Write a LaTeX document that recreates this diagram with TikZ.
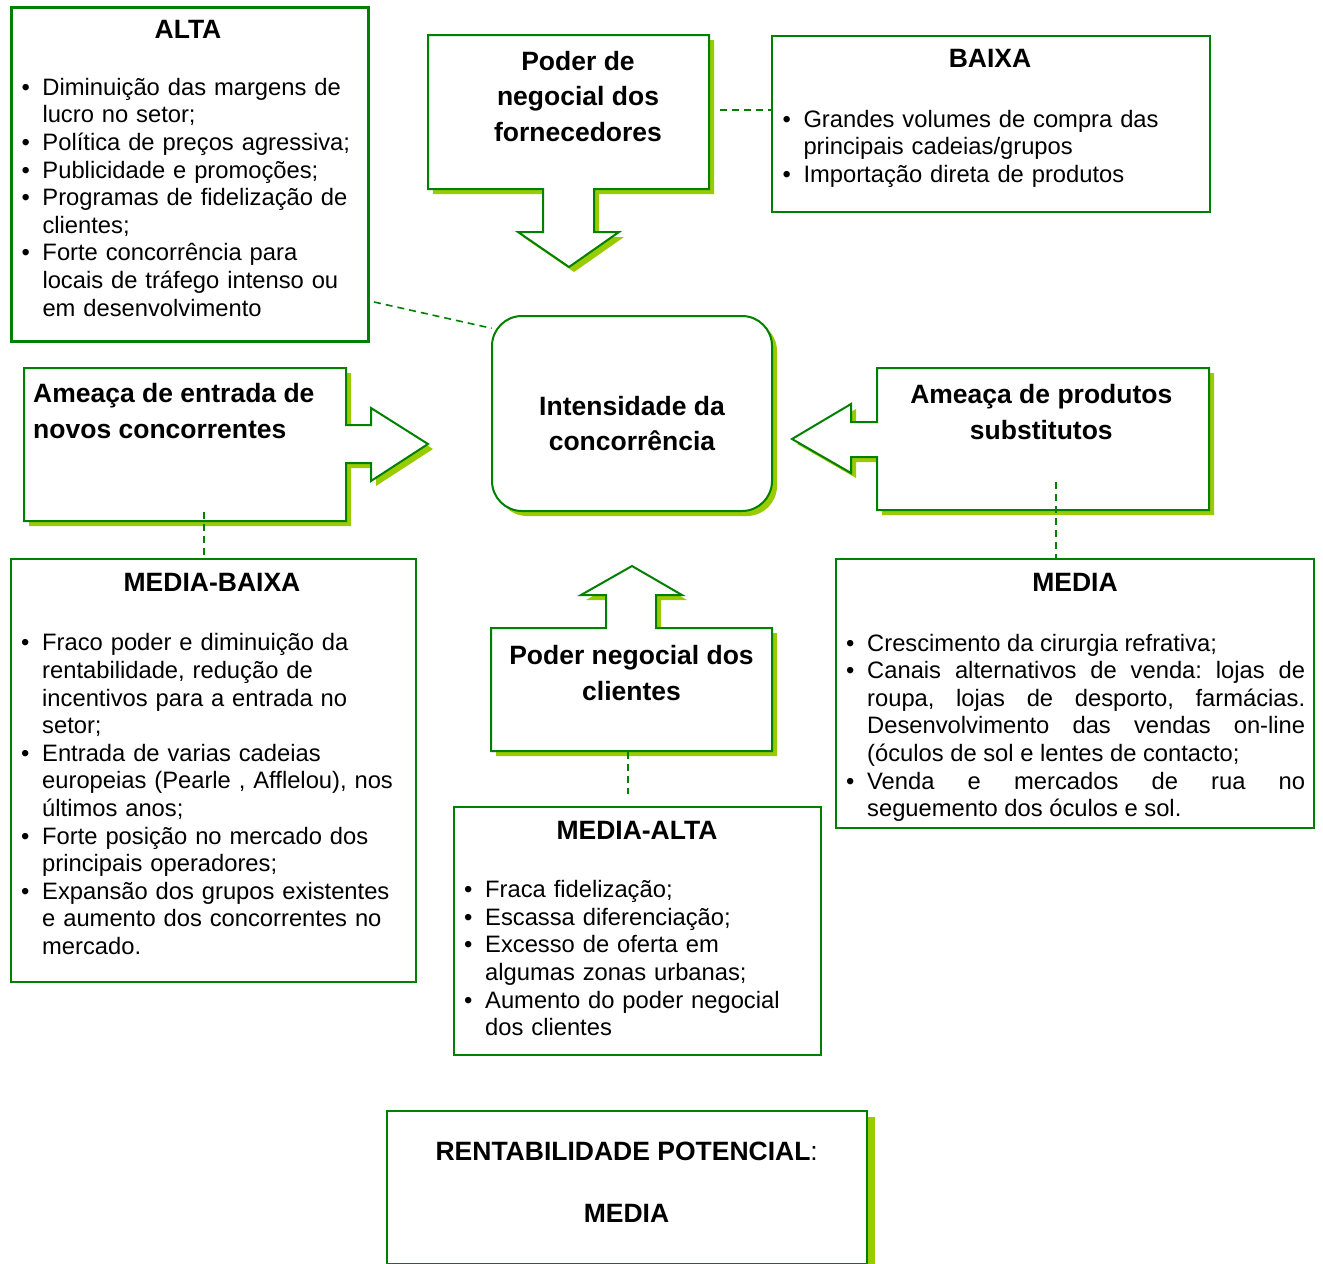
\documentclass[tikz,border=0pt]{standalone}
\usepackage{fontspec}
\setmainfont{Liberation Sans}
\definecolor{dg}{RGB}{0,128,0}
\definecolor{lg}{RGB}{153,204,0}
\newcommand{\bitem}[1]{\par\hangindent=21pt\hangafter=1\noindent\rule{0pt}{20pt}\makebox[21pt][l]{\textbullet}#1}
\newcommand{\fornshape}[1]{\path[#1] (428,35) -- (709,35) -- (709,189) -- (594,189) -- (594,232) -- (619,232) -- (569,267) -- (518,232) -- (543,232) -- (543,189) -- (428,189) -- cycle;}
\newcommand{\entrshape}[1]{\path[#1] (24,368) -- (346,368) -- (346,425) -- (371,425) -- (371,408) -- (428,444) -- (371,481) -- (371,463) -- (346,463) -- (346,521) -- (24,521) -- cycle;}
\newcommand{\prodshape}[1]{\path[#1] (877,368) -- (1209,368) -- (1209,510) -- (877,510) -- (877,457) -- (851,457) -- (851,473) -- (792,439) -- (851,404) -- (851,422) -- (877,422) -- cycle;}
\newcommand{\clishape}[1]{\path[#1] (491,628) -- (606,628) -- (606,595) -- (581,595) -- (632,566) -- (682,595) -- (656,595) -- (656,628) -- (772,628) -- (772,751) -- (491,751) -- cycle;}
\begin{document}
\begin{tikzpicture}[x=1pt,y=-1pt,
  box/.style={draw=dg, line width=2pt, fill=white, inner sep=0pt, anchor=north west},
  callout/.style={draw=dg, line width=2pt, fill=white, line join=miter},
  conn/.style={draw=dg, line width=1.6pt, dash pattern=on 7pt off 5pt},
  ttl/.style={font=\fontsize{26.5}{35.5}\selectfont\bfseries, inner sep=0pt},
  lst/.style={font=\fontsize{23.75}{27.6}\selectfont\frenchspacing, inner sep=0pt, anchor=north west},
]
\useasboundingbox (0,0) rectangle (1323,1264);

% ---- shadows ----
\fornshape{fill=lg, shift={(5,5)}}
\entrshape{fill=lg, shift={(5,5)}}
\prodshape{fill=lg, shift={(5,5)}}
\clishape{fill=lg, shift={(5,5)}}
\fill[lg, rounded corners=30pt] (497,321) rectangle (777,516);
\fill[lg] (395,1117) rectangle (875,1275);

% ---- callout shapes ----
\fornshape{callout}
\entrshape{callout}
\prodshape{callout}
\clishape{callout}

% ---- boxes ----
\node[box, line width=3pt, minimum width=357pt, minimum height=334pt] (alta) at (10,6) {};
\node[box, minimum width=438pt, minimum height=176pt] (baixa) at (771,35) {};
\node[box, minimum width=405pt, minimum height=423pt] (mb) at (10,558) {};
\node[box, minimum width=478pt, minimum height=269pt] (media) at (835,558) {};
\node[box, minimum width=367pt, minimum height=248pt] (ma) at (453,806) {};
\node[box, minimum width=480pt, minimum height=153pt] (rent) at (386,1110) {};
\node[box, rounded corners=30pt, minimum width=280pt, minimum height=195pt] (centro) at (491,315) {};

% ---- callout / center texts ----
\node[ttl, anchor=north, align=center] (fornT) at (578,46) {\rule{0pt}{24pt}Poder de\\negocial dos\\fornecedores};
\node[ttl, anchor=north, align=center] (centroT) at (632,391) {\rule{0pt}{24pt}Intensidade da\\concorrência};
\node[ttl, anchor=north west, align=left] (entrT) at (33,378.7) {\rule{0pt}{24pt}Ameaça de entrada de\\novos concorrentes};
\node[ttl, anchor=north, align=center] (prodT) at (1041.3,379.3) {\rule{0pt}{24pt}Ameaça de produtos\\substitutos};
\node[ttl, anchor=north, align=center] (cliT) at (631.5,640.3) {\rule{0pt}{24pt}Poder negocial dos\\clientes};

% ---- box titles ----
\node[ttl, anchor=base] (altaT) at (188,38.5) {ALTA};
\node[ttl, anchor=base] (baixaT) at (990,67.5) {BAIXA};
\node[ttl, anchor=base] (mbT) at (212,591.5) {MEDIA-BAIXA};
\node[ttl, anchor=base] (mediaT) at (1075,591) {MEDIA};
\node[ttl, anchor=base] (maT) at (637,839.3) {MEDIA-ALTA};
\node[ttl, anchor=base] (rentT) at (626.7,1160) {RENTABILIDADE POTENCIAL\mdseries:};
\node[ttl, anchor=base] (rentV) at (626.5,1222.7) {MEDIA};

% ---- lists ----
\node[lst, text width=345pt] (altaL) at (21.3,67.5) {%
\bitem{Diminuição das margens de\newline lucro no setor;}
\bitem{Política de preços agressiva;}
\bitem{Publicidade e promoções;}
\bitem{Programas de fidelização de\newline clientes;}
\bitem{Forte concorrência para\newline locais de tráfego intenso ou\newline em desenvolvimento}\par};

\node[lst, text width=420pt] (baixaL) at (782.3,99.5) {%
\bitem{Grandes volumes de compra das\newline principais cadeias/grupos}
\bitem{Importação direta de produtos}\par};

\node[lst, text width=390pt] (mbL) at (21,623.1) {%
\bitem{Fraco poder e diminuição da\newline rentabilidade, redução de\newline incentivos para a entrada no\newline setor;}
\bitem{Entrada de varias cadeias\newline europeias (Pearle , Afflelou), nos\newline últimos anos;}
\bitem{Forte posição no mercado dos\newline principais operadores;}
\bitem{Expansão dos grupos existentes\newline e aumento dos concorrentes no\newline mercado.}\par};

\begin{scope}
\clip (835,558) rectangle (1313,821);
\node[lst, text width=459pt] (mediaL) at (846,623.2) {%
\leftskip=0pt\rightskip=0pt\spaceskip=0.278em plus 2em minus 0.05em\tolerance=10000\hbadness=10000
\bitem{Crescimento da cirurgia refrativa;}
\bitem{Canais alternativos de venda: lojas de\linebreak roupa, lojas de desporto, farmácias.\linebreak Desenvolvimento das vendas on-line\linebreak (óculos de sol e lentes de contacto;}
\bitem{Venda e mercados de rua no\linebreak seguemento dos óculos e sol.}\par};
\end{scope}

\node[lst, text width=350pt] (maL) at (464,869.8) {%
\bitem{Fraca fidelização;}
\bitem{Escassa diferenciação;}
\bitem{Excesso de oferta em\newline algumas zonas urbanas;}
\bitem{Aumento do poder negocial\newline dos clientes}\par};

% ---- connectors ----
\coordinate (c1s) at (720,110);
\draw[conn] (c1s) -- (c1s -| baixa.west);
\coordinate (c2s) at (374,302);
\coordinate (c2e) at (491.7,328.3);
\draw[conn] (c2s) -- (c2e);
\coordinate (c3s) at (204,512);
\draw[conn] (c3s) -- (c3s |- mb.north);
\coordinate (c4s) at (1056,482);
\draw[conn] (c4s) -- (c4s |- media.north);
\coordinate (c5s) at (628,752);
\coordinate (c5e) at (628,794);
\draw[conn] (c5s) -- (c5e);
\end{tikzpicture}
\end{document}
